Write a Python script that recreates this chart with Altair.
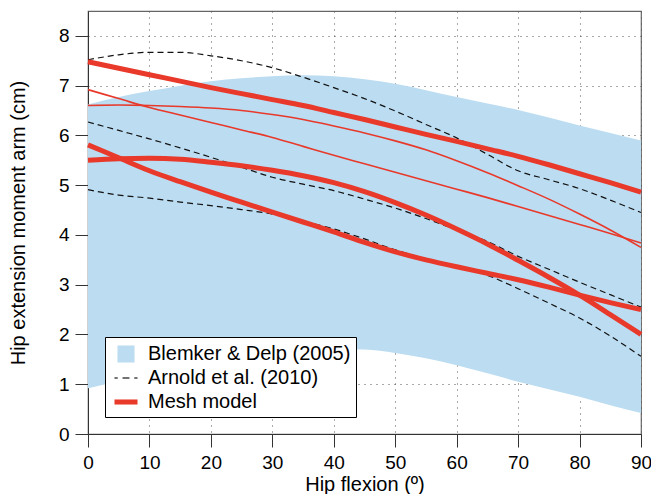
import altair as alt
import pandas as pd

# ---------------- data ----------------
flexion = [0, 5, 10, 15, 20, 25, 30, 35, 40, 45, 50, 55, 60, 65, 70, 75, 80, 85, 90]

# Blemker & Delp (2005) range (shaded band)
blemker_upper = [6.62, 6.77, 6.89, 7.00, 7.09, 7.15, 7.19, 7.21, 7.19, 7.13, 7.04, 6.91, 6.77, 6.64, 6.51, 6.36, 6.20, 6.05, 5.90]
blemker_lower = [0.92, 1.06, 1.20, 1.33, 1.44, 1.54, 1.62, 1.68, 1.71, 1.70, 1.63, 1.52, 1.38, 1.22, 1.05, 0.90, 0.75, 0.58, 0.42]

# Arnold et al. (2010) - dashed curves
arnold_1 = [7.52, 7.62, 7.67, 7.67, 7.60, 7.50, 7.36, 7.17, 6.96, 6.74, 6.49, 6.22, 5.95, 5.62, 5.29, 5.11, 4.93, 4.70, 4.45]
arnold_2 = [6.27, 6.10, 5.93, 5.75, 5.56, 5.36, 5.16, 5.02, 4.89, 4.72, 4.54, 4.33, 4.10, 3.87, 3.57, 3.31, 3.05, 2.80, 2.55]
arnold_3 = [4.91, 4.80, 4.74, 4.66, 4.59, 4.51, 4.42, 4.28, 4.12, 3.92, 3.70, 3.52, 3.37, 3.19, 2.92, 2.63, 2.33, 1.97, 1.56]

# Mesh model - thick curves
mesh_thick_1 = [7.48, 7.35, 7.22, 7.09, 6.96, 6.84, 6.72, 6.60, 6.46, 6.32, 6.17, 6.02, 5.88, 5.73, 5.58, 5.41, 5.23, 5.05, 4.86]
mesh_thick_2 = [5.50, 5.53, 5.54, 5.52, 5.46, 5.39, 5.30, 5.19, 5.05, 4.87, 4.65, 4.40, 4.12, 3.82, 3.49, 3.15, 2.79, 2.40, 2.00]
mesh_thick_3 = [5.81, 5.55, 5.29, 5.07, 4.86, 4.66, 4.46, 4.26, 4.06, 3.85, 3.66, 3.50, 3.36, 3.23, 3.10, 2.95, 2.79, 2.64, 2.50]
# Mesh model - thin curves
mesh_thin_1 = [6.92, 6.74, 6.56, 6.41, 6.26, 6.11, 5.96, 5.78, 5.60, 5.43, 5.26, 5.09, 4.92, 4.75, 4.57, 4.39, 4.21, 4.03, 3.84]
mesh_thin_2 = [6.60, 6.61, 6.60, 6.58, 6.55, 6.50, 6.42, 6.32, 6.19, 6.05, 5.89, 5.71, 5.49, 5.25, 4.99, 4.72, 4.42, 4.10, 3.75]

series_names = ["Blemker & Delp (2005)", "Arnold et al. (2010)", "Mesh model"]
BAND_COLOR = "#bbdcf1"
DASH_COLOR = "#111111"
MESH_COLOR = "#e8392a"
legend_symbol_colors = [BAND_COLOR, "#444444", MESH_COLOR]

x_ticks = list(range(0, 95, 5))
y_ticks = [i * 0.5 for i in range(0, 17)]

# legend glyphs (unit-box SVG paths): square, dashed stroke, thick stroke
legend_shapes = [
    "M-0.74,-0.74 L0.74,-0.74 L0.74,0.74 L-0.74,0.74 Z",
    "M-1,-0.055 L-0.72,-0.055 L-0.72,0.055 L-1,0.055 Z "
    "M-0.3,-0.055 L0.3,-0.055 L0.3,0.055 L-0.3,0.055 Z "
    "M0.72,-0.055 L1,-0.055 L1,0.055 L0.72,0.055 Z",
    "M-1,-0.22 L1,-0.22 L1,0.22 L-1,0.22 Z",
]

# ---------------- tables ----------------
band = pd.DataFrame({"x": flexion, "lo": blemker_lower, "hi": blemker_upper})

def long(curves):
    rows = []
    for cid, vals in curves.items():
        for xv, yv in zip(flexion, vals):
            rows.append({"x": xv, "y": yv, "curve": cid})
    return pd.DataFrame(rows)

arnold = long({"a1": arnold_1, "a2": arnold_2, "a3": arnold_3})
thick = long({"t1": mesh_thick_1, "t2": mesh_thick_2, "t3": mesh_thick_3})
thin = long({"n1": mesh_thin_1, "n2": mesh_thin_2})
legend_df = pd.DataFrame({"series": series_names})

FONT = "Liberation Sans"

xscale = alt.Scale(domain=[0, 90], nice=False, zero=False)
yscale = alt.Scale(domain=[0, 8.5], nice=False, zero=True)

xaxis = alt.Axis(
    values=x_ticks, title="Hip flexion (º)",
    labelExpr="datum.value % 10 === 0 ? datum.label : ''",
    tickSize={"condition": {"test": "datum.value % 10 === 0", "value": 13}, "value": 7},
    gridOpacity={"condition": {"test": "datum.value % 10 === 0", "value": 1}, "value": 0},
    grid=True, gridDash=[1, 5], gridColor="#555555", gridWidth=1,
    domainColor="#333333", tickColor="#333333", labelPadding=6,
    labelFont=FONT, labelFontSize=19, labelColor="#000000",
    titleFont=FONT, titleFontSize=20, titleFontWeight="normal", titleColor="#000000",
    titlePadding=2, labelFlush=False, labelOverlap=False,
)
yaxis = alt.Axis(
    values=y_ticks, title="Hip extension moment arm (cm)",
    labelExpr="datum.value % 1 === 0 ? datum.label : ''",
    tickSize={"condition": {"test": "datum.value % 1 === 0", "value": 13}, "value": 7},
    gridOpacity={"condition": {"test": "datum.value % 1 === 0", "value": 1}, "value": 0},
    grid=True, gridDash=[1, 5], gridColor="#555555", gridWidth=1,
    domainColor="#333333", tickColor="#333333", labelPadding=6,
    labelFont=FONT, labelFontSize=19, labelColor="#000000",
    titleFont=FONT, titleFontSize=20, titleFontWeight="normal", titleColor="#000000",
    titlePadding=30, labelFlush=False, labelOverlap=False,
)

area = alt.Chart(band).mark_area(interpolate="monotone", opacity=1, color=BAND_COLOR).encode(
    x=alt.X("x:Q", scale=xscale, axis=xaxis),
    y=alt.Y("lo:Q", scale=yscale, axis=yaxis),
    y2="hi:Q",
)

dashed = alt.Chart(arnold).mark_line(interpolate="monotone", strokeWidth=1.2,
                                     strokeDash=[6, 4], color=DASH_COLOR).encode(
    x="x:Q", y="y:Q", detail="curve:N",
)

thin_lines = alt.Chart(thin).mark_line(interpolate="monotone", strokeWidth=1.6,
                                       color=MESH_COLOR).encode(
    x="x:Q", y="y:Q", detail="curve:N",
)

thick_lines = alt.Chart(thick).mark_line(interpolate="monotone", strokeWidth=5,
                                         color=MESH_COLOR).encode(
    x="x:Q", y="y:Q", detail="curve:N",
)

legend_cfg = dict(
    title=None, orient="bottom-left", offset=17, zindex=1,
    labelFont=FONT, labelFontSize=20, labelColor="#000000",
    symbolSize=530, symbolOffset=4, labelOffset=10,
    rowPadding=2, padding=5, strokeColor="#000000", fillColor="#ffffff",
    labelLimit=400,
)

# invisible helper marks (placed off the plot and clipped) that carry the legend
legend_layer = alt.Chart(legend_df).mark_point(
    filled=True, size=530, strokeWidth=0, clip=True
).encode(
    x=alt.value(-500), y=alt.value(-500),
    fill=alt.Fill("series:N", scale=alt.Scale(domain=series_names, range=legend_symbol_colors),
                  legend=alt.Legend(**legend_cfg)),
    shape=alt.Shape("series:N", scale=alt.Scale(domain=series_names, range=legend_shapes),
                    legend=alt.Legend(**legend_cfg)),
)

chart = alt.layer(area, dashed, thin_lines, thick_lines, legend_layer).properties(
    width=553, height=423,
    autosize=alt.AutoSizeParams(type="none"),
    padding={"left": 80, "top": 3, "right": 10, "bottom": 60},
    background="#ffffff",
).configure_view(
    stroke="#666666", strokeWidth=1.2,
).configure_legend(
    symbolOpacity=1, symbolStrokeWidth=0, cornerRadius=0,
)

chart.save("out.html", embed_options={"renderer": "svg", "actions": False})
